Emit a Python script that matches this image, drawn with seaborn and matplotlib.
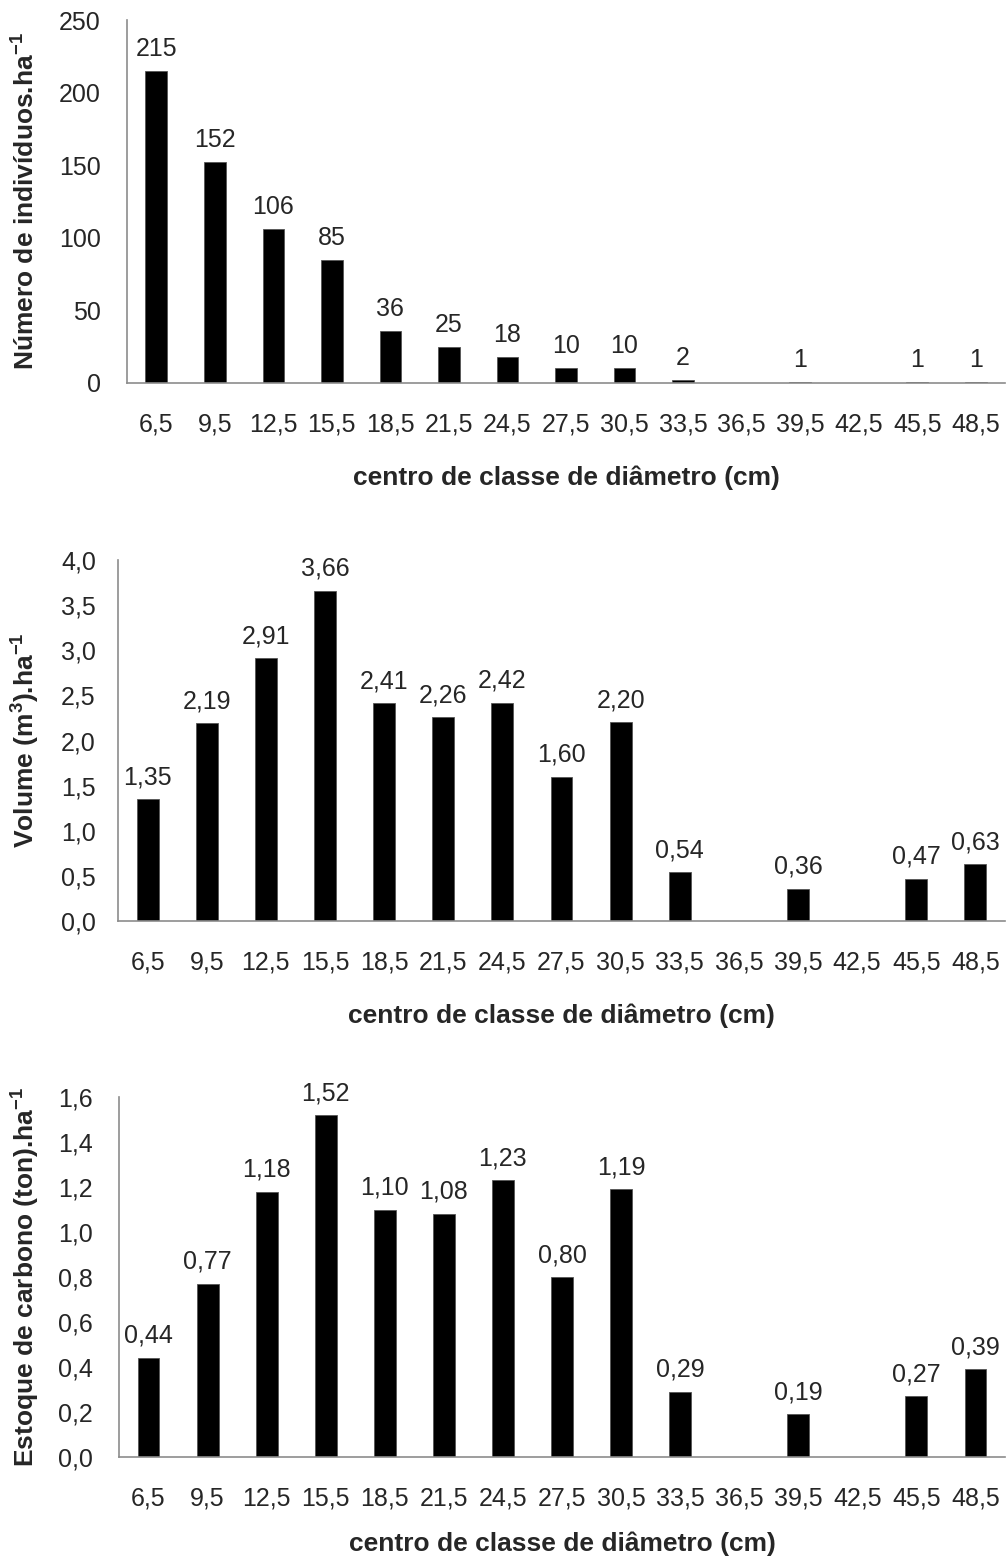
import matplotlib
matplotlib.use("Agg")
import matplotlib.pyplot as plt
import seaborn as sns
import pandas as pd

# Diameter class centres (cm)
classes = ["6,5", "9,5", "12,5", "15,5", "18,5", "21,5", "24,5", "27,5",
           "30,5", "33,5", "36,5", "39,5", "42,5", "45,5", "48,5"]

# Number of trees per hectare
individuos = [215, 152, 106, 85, 36, 25, 18, 10, 10, 2, 0, 1, 0, 1, 1]
# Volume (m3 per hectare)
volume = [1.35, 2.19, 2.91, 3.66, 2.41, 2.26, 2.42, 1.60, 2.20, 0.54, 0, 0.36, 0, 0.47, 0.63]
# Carbon stock (ton per hectare)
carbono = [0.44, 0.77, 1.18, 1.52, 1.10, 1.08, 1.23, 0.80, 1.19, 0.29, 0, 0.19, 0, 0.27, 0.39]

yticks_ind = [0, 50, 100, 150, 200, 250]
yticks_vol = [0.0, 0.5, 1.0, 1.5, 2.0, 2.5, 3.0, 3.5, 4.0]
yticks_car = [0.0, 0.2, 0.4, 0.6, 0.8, 1.0, 1.2, 1.4, 1.6]

xlabel = "centro de classe de diâmetro (cm)"

sns.set_style("white")
plt.rcParams["font.family"] = ["Liberation Sans", "DejaVu Sans"]
plt.rcParams["mathtext.fontset"] = "custom"
plt.rcParams["mathtext.rm"] = "Liberation Sans"
plt.rcParams["mathtext.it"] = "Liberation Sans"
plt.rcParams["mathtext.bf"] = "Liberation Sans:bold"
plt.rcParams["mathtext.default"] = "regular"

W, H = 1007, 1564
fig = plt.figure(figsize=(W / 100, H / 100), dpi=100)

AX_GRAY = "#8c8c8c"
TICK_FS = 18
LABEL_FS = 19


def px_rect(left, top, right, bottom):
    return [left / W, 1 - bottom / H, (right - left) / W, (bottom - top) / H]


def comma(v, nd):
    return f"{v:.{nd}f}".replace(".", ",")


def draw_panel(box, values, yticks, ylab, tick_nd, val_nd, ypad, xl_off):
    l, t, r, b = box
    ax = fig.add_axes(px_rect(l, t, r, b))
    df = pd.DataFrame({"classe": classes, "valor": values})
    sns.barplot(data=df, x="classe", y="valor", color="black", width=0.37,
                saturation=1, edgecolor="#555555", linewidth=0.6, ax=ax,
                order=classes)
    ax.set_xlim(-0.5, len(classes) - 0.5)
    ax.set_ylim(yticks[0], yticks[-1])
    ax.set_yticks(yticks)
    ax.set_yticklabels([comma(tk, tick_nd) for tk in yticks], fontsize=TICK_FS)
    ax.set_xticks(range(len(classes)))
    ax.set_xticklabels(classes, fontsize=TICK_FS)
    ax.set_xticks([i - 0.5 for i in range(len(classes) + 1)], minor=True)
    ax.tick_params(axis="x", which="major", length=0, pad=21)
    ax.tick_params(axis="x", which="minor", length=8, width=1.1,
                   color=AX_GRAY, direction="out")
    ax.tick_params(axis="y", which="major", length=8, width=1.1,
                   color=AX_GRAY, direction="out", pad=ypad)
    for s in ["top", "right"]:
        ax.spines[s].set_visible(False)
    for s in ["left", "bottom"]:
        ax.spines[s].set_color(AX_GRAY)
        ax.spines[s].set_linewidth(1.2)

    for i, v in enumerate(values):
        if v > 0:
            ax.annotate(comma(v, val_nd), xy=(i, v), xytext=(0, 15),
                        textcoords="offset pixels", ha="center",
                        va="baseline", fontsize=TICK_FS)

    ax.set_xlabel(xlabel, fontsize=LABEL_FS, fontweight="bold")
    ax.set_ylabel(ylab, fontsize=LABEL_FS, fontweight="bold")
    ax.grid(False)

    # axis titles at fixed pixel offsets from the axes
    w, h = r - l, b - t
    ax.xaxis.label.set_va("center")
    ax.xaxis.set_label_coords(0.5, -xl_off / h)
    ax.yaxis.label.set_va("center")
    ax.yaxis.set_label_coords(-(l - 26) / w, 0.5)
    return ax


draw_panel((127, 20, 1005, 383), individuos, yticks_ind,
           r"Número de indivíduos.ha$^{-1}$", 0, 0, 11, 95)
draw_panel((118, 560, 1005, 921), volume, yticks_vol,
           r"Volume (m$^{3}$).ha$^{-1}$", 1, 2, 8, 95)
draw_panel((119, 1097, 1005, 1457), carbono, yticks_car,
           r"Estoque de carbono (ton).ha$^{-1}$", 1, 2, 11, 87)

fig.savefig("out.png", dpi=100, facecolor="white")
